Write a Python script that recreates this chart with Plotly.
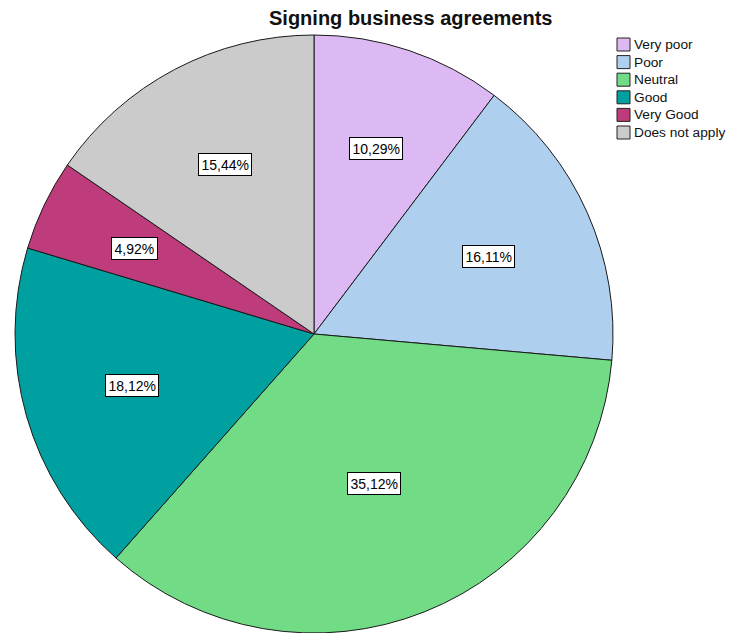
import math
import plotly.graph_objects as go

# Survey responses: "Signing business agreements"
categories = ["Very poor", "Poor", "Neutral", "Good", "Very Good", "Does not apply"]
percentages = [10.29, 16.11, 35.12, 18.12, 4.92, 15.44]
colors = ["#DDB9F3", "#AFCFEE", "#71DC85", "#00A0A0", "#BE3C7B", "#CBCBCB"]

W, H = 742, 633
dom_x = [15 / W, 613 / W]
dom_y = [0.0, 598 / H]
FONT = "Arial, Liberation Sans, sans-serif"

fig = go.Figure(
    go.Pie(
        labels=categories,
        values=percentages,
        sort=False,
        direction="clockwise",
        rotation=0,
        marker=dict(colors=colors, line=dict(color="#1a1a1a", width=1)),
        textinfo="none",
        hoverinfo="label+percent",
        domain=dict(x=dom_x, y=dom_y),
        showlegend=False,
    )
)

# Percentage labels placed at each slice's centroid
cx = (dom_x[0] + dom_x[1]) / 2 * W
cy = (dom_y[0] + dom_y[1]) / 2 * H
R = min((dom_x[1] - dom_x[0]) * W, (dom_y[1] - dom_y[0]) * H) / 2
total = sum(percentages)
annotations = []
start = 0.0
for cat, v in zip(categories, percentages):
    frac = v / total
    mid = (start + frac / 2) * 2 * math.pi  # clockwise from 12 o'clock
    half = frac * math.pi
    rc = 2 * R * math.sin(half) / (3 * half)
    px = cx + rc * math.sin(mid)
    py = cy + rc * math.cos(mid)
    annotations.append(
        dict(
            x=px / W, y=py / H, xref="paper", yref="paper",
            text=f"{v:.2f}%".replace(".", ","),
            showarrow=False,
            font=dict(family=FONT, size=14, color="black"),
            bgcolor="white", bordercolor="black", borderwidth=1, borderpad=2.5,
            xanchor="center", yanchor="middle",
        )
    )
    start += frac

annotations.append(
    dict(
        x=410 / W, y=1 - 18 / H, xref="paper", yref="paper",
        text="<b>Signing business agreements</b>", showarrow=False,
        font=dict(family=FONT, size=20, color="#111111"),
        xanchor="center", yanchor="middle",
    )
)

# Compact legend: swatch + label per category
shapes = []
leg_x0, leg_top, row_h, sw = 617, 44.5, 17.6, 13
for i, (cat, col) in enumerate(zip(categories, colors)):
    yc = leg_top + i * row_h
    shapes.append(
        dict(
            type="rect", xref="paper", yref="paper",
            x0=leg_x0 / W, x1=(leg_x0 + sw) / W,
            y0=1 - (yc + sw / 2) / H, y1=1 - (yc - sw / 2) / H,
            fillcolor=col, line=dict(color="#222222", width=1),
        )
    )
    annotations.append(
        dict(
            x=(leg_x0 + sw + 2) / W, y=1 - yc / H, xref="paper", yref="paper",
            text=cat, showarrow=False,
            font=dict(family=FONT, size=13.7, color="#111111"),
            xanchor="left", yanchor="middle",
        )
    )

fig.update_layout(
    width=W, height=H,
    margin=dict(l=0, r=0, t=0, b=0),
    paper_bgcolor="white", plot_bgcolor="white",
    annotations=annotations,
    shapes=shapes,
    showlegend=False,
)

fig.write_html("out.html")
